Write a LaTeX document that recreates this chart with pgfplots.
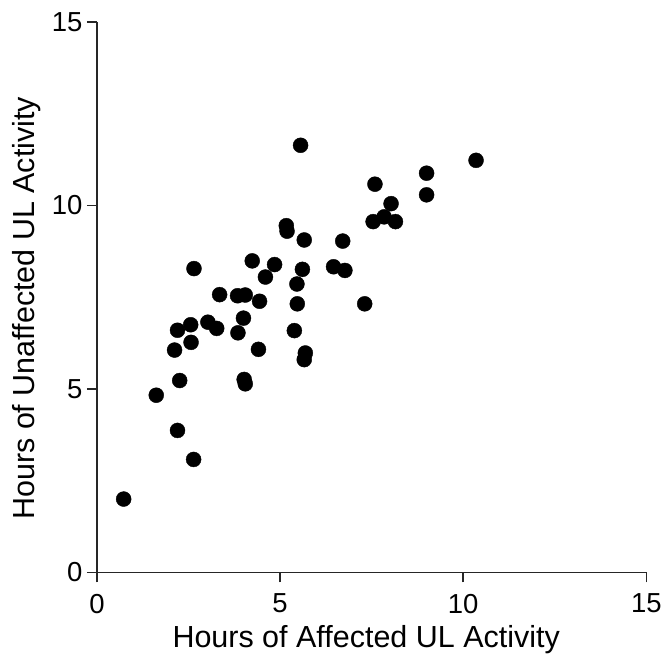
\documentclass[border=0pt]{standalone}
\usepackage{fontspec}
\setmainfont{Liberation Sans}
\usepackage{pgfplots}
\pgfplotsset{compat=1.18}
\begin{document}
\begin{tikzpicture}
\begin{axis}[
  scale only axis,
  width=550pt, height=551pt,
  xmin=0, xmax=15, ymin=0, ymax=15,
  xtick={0,5,10,15}, ytick={0,5,10,15},
  axis lines=left,
  axis line style={-, line width=1.5pt, black!85},
  tick style={line width=1.5pt, black!85},
  major tick length=10pt,
  tick align=outside,
  /pgf/number format/assume math mode=true,
  tick label style={font=\fontsize{27.5}{30}\selectfont},
  xticklabel style={yshift=-8pt},
  yticklabel style={xshift=-1pt},
  label style={font=\fontsize{30.5}{34}\selectfont},
  xlabel={Hours of Affected UL Activity},
  ylabel={Hours of Unaffected UL Activity},
  x label style={at={(axis description cs:0.49,0)}, anchor=base, yshift=-75pt},
  y label style={at={(axis description cs:-0.1127,0.48)}, anchor=base, rotate=0},
  clip=false,
]
\addplot[only marks, mark=*, mark size=7.5pt, mark options={fill=black, draw=black}] coordinates {
(0.73,2.00) (1.62,4.83) (2.20,3.87) (2.64,3.08) (2.26,5.23) (2.12,6.06)
(2.20,6.60) (2.56,6.75) (2.57,6.27) (2.65,8.28) (3.03,6.82) (3.27,6.65)
(3.35,7.57) (3.85,6.53) (3.84,7.54) (4.05,7.56) (4.00,6.93) (4.02,5.26)
(4.05,5.14) (4.44,7.39) (4.41,6.08) (4.24,8.49) (4.60,8.05) (4.85,8.39)
(5.17,9.45) (5.19,9.30) (5.56,11.64) (5.66,9.06) (5.61,8.26) (5.46,7.86)
(5.47,7.32) (5.39,6.59) (5.69,5.98) (5.66,5.80) (6.46,8.33) (6.77,8.23)
(6.71,9.03) (7.31,7.32) (7.59,10.58) (7.54,9.56) (7.84,9.69) (8.15,9.56)
(8.03,10.05) (9.00,10.88) (9.00,10.29) (10.35,11.23)
};
\end{axis}
\path (current axis.south west) ++(-97pt,-82pt) rectangle ++(665pt,655pt);
\end{tikzpicture}
\end{document}
